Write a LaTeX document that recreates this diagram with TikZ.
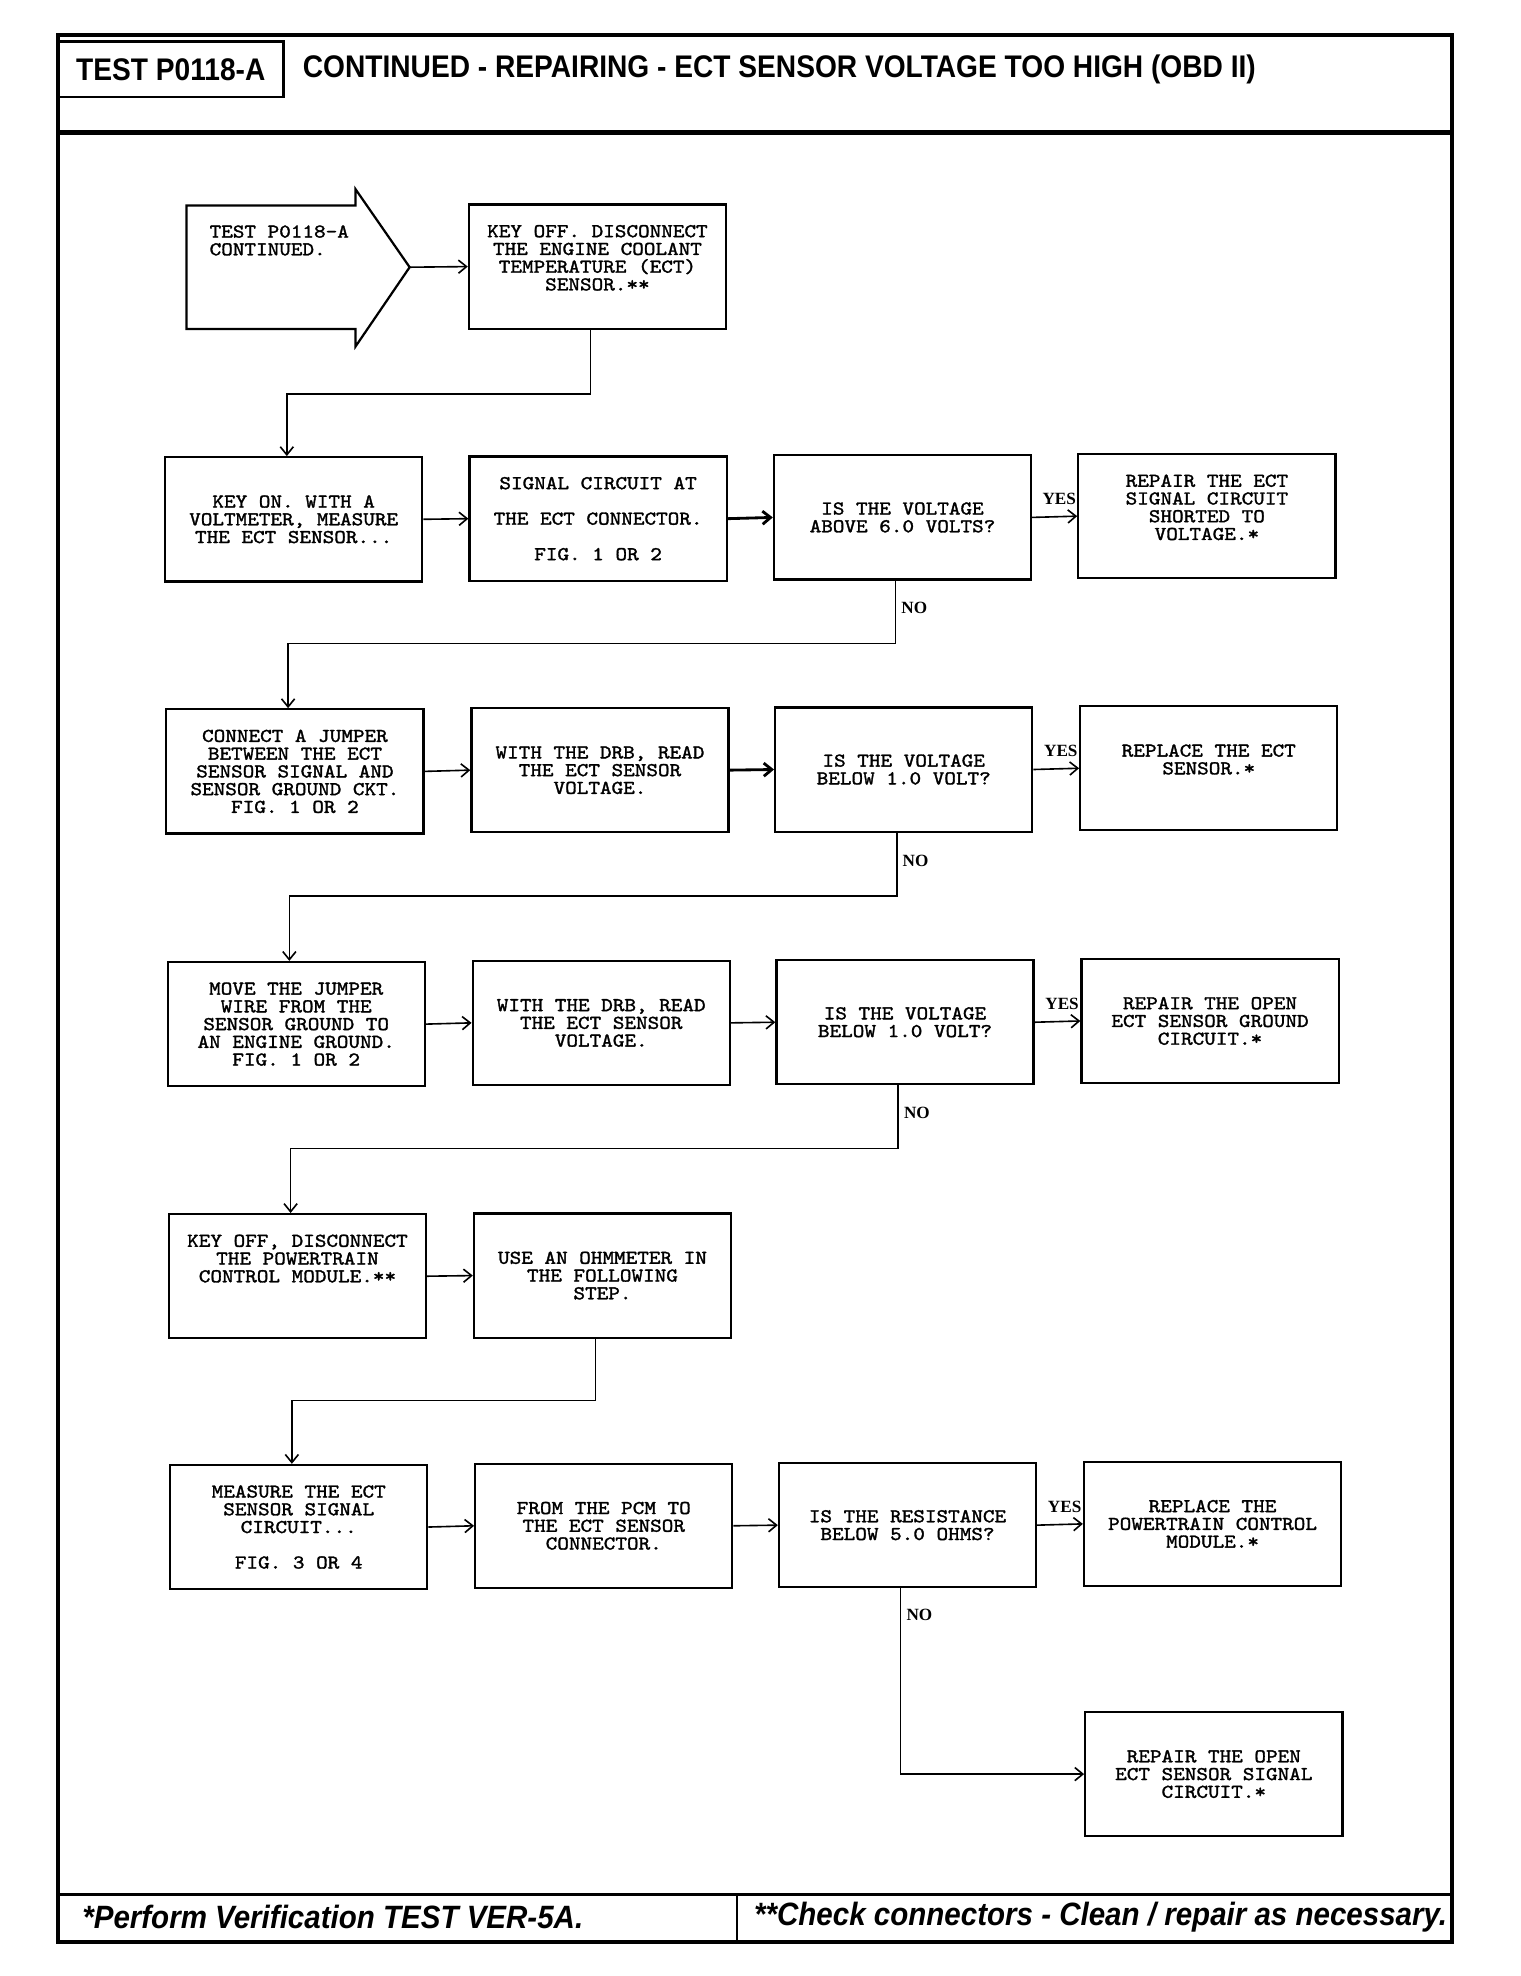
\documentclass[tikz,border=0pt]{standalone}
\usepackage{fontspec}
\setmainfont{Liberation Serif}
\newfontfamily\headfont[FakeStretch=0.9]{Liberation Sans}
\newfontfamily\footfont[FakeStretch=0.915]{Liberation Sans}
\newfontfamily\boxfont[Extension=.otf, FakeBold=1.6, FakeStretch=1.13]{lmmono10-regular}
\usetikzlibrary{arrows.meta}
\tikzset{>={Straight Barb[length=4pt,width=6.5pt]}}
\tikzset{ % chart styles
  stepbox/.style={draw, line width=1.1pt, minimum width=127.5pt,
    minimum height=61.6pt, align=center, inner sep=0pt,
    font=\boxfont\fontsize{9.7}{8.8}\selectfont},
  conn/.style={->, line width=0.8pt},
  answer/.style={font=\bfseries\fontsize{8.5}{9}\selectfont, inner sep=2.5pt},
  frame/.style={line width=1.9pt},
  headtext/.style={inner sep=0pt, font=\headfont\bfseries\fontsize{15.5}{16}\selectfont},
  foottext/.style={inner sep=0pt, anchor=west,
    font=\footfont\bfseries\itshape\fontsize{16}{17}\selectfont}
}

\begin{document}
\begin{tikzpicture}[x=0.625pt, y=-0.625pt]
\useasboundingbox (0,0) rectangle (1206,1567.7);

% page frame
\draw[frame] (46,28) rectangle (1152,1541);
\draw[line width=2.4pt] (46,105) -- (1152,105);
\draw[line width=1.1pt] (46,33) rectangle (225,77);
\draw[frame] (46,1503) -- (1152,1503);
\draw[line width=1.1pt] (585,1503) -- (585,1541);
\node[headtext] (testid) at (135.5,55) {TEST P0118-A};
\node[headtext, anchor=west] (title) at (240,55)
  {CONTINUED - REPAIRING - ECT SENSOR VOLTAGE TOO HIGH (OBD II)};
\node[foottext] (note1) at (65,1521) {*Perform Verification TEST VER-5A.};
\node[foottext] (note2) at (598,1521) {**Check connectors - Clean / repair as necessary.};

% entry arrow
\draw[line width=1.1pt] (148,163) -- (282,163) -- (282,150) -- (325,212)
  -- (282,275) -- (282,261) -- (148,261) -- cycle;
\coordinate (tip) at (325,212);
\node[anchor=north west, align=left, inner sep=0pt,
  font=\boxfont\fontsize{9.7}{8.8}\selectfont] (start) at (166,178.5)
  {TEST P0118-A\\CONTINUED.};

% steps
\node[stepbox] (a) at (474,211.5) {KEY OFF. DISCONNECT\\THE ENGINE COOLANT\\TEMPERATURE (ECT)\\SENSOR.**\\\mbox{}};

\node[stepbox] (b1) at (233,412) {KEY ON. WITH A\\VOLTMETER, MEASURE\\THE ECT SENSOR...};
\node[stepbox] (b2) at (474.5,411.5) {SIGNAL CIRCUIT AT\\[8.8pt]THE ECT CONNECTOR.\\[8.8pt]FIG. 1 OR 2};
\node[stepbox] (b3) at (716,410.5) {IS THE VOLTAGE\\ABOVE 6.0 VOLTS?};
\node[stepbox] (b4) at (957.5,409.5) {REPAIR THE ECT\\SIGNAL CIRCUIT\\SHORTED TO\\VOLTAGE.*\\\mbox{}};

\node[stepbox] (c1) at (234,612) {CONNECT A JUMPER\\BETWEEN THE ECT\\SENSOR SIGNAL AND\\SENSOR GROUND CKT.\\FIG. 1 OR 2};
\node[stepbox] (c2) at (476,611) {WITH THE DRB, READ\\THE ECT SENSOR\\VOLTAGE.};
\node[stepbox] (c3) at (717,610.5) {IS THE VOLTAGE\\BELOW 1.0 VOLT?};
\node[stepbox] (c4) at (959,609.5) {REPLACE THE ECT\\SENSOR.*\\\mbox{}};

\node[stepbox] (d1) at (235,812.5) {MOVE THE JUMPER\\WIRE FROM THE\\SENSOR GROUND TO\\AN ENGINE GROUND.\\FIG. 1 OR 2};
\node[stepbox] (d2) at (477,811.5) {WITH THE DRB, READ\\THE ECT SENSOR\\VOLTAGE.};
\node[stepbox] (d3) at (718,811) {IS THE VOLTAGE\\BELOW 1.0 VOLT?};
\node[stepbox] (d4) at (960,810) {REPAIR THE OPEN\\ECT SENSOR GROUND\\CIRCUIT.*};

\node[stepbox] (e1) at (236,1012.5) {KEY OFF, DISCONNECT\\THE POWERTRAIN\\CONTROL MODULE.**\\\mbox{}\\\mbox{}};
\node[stepbox] (e2) at (478,1012) {USE AN OHMMETER IN\\THE FOLLOWING\\STEP.};

\node[stepbox] (f1) at (237,1211.5) {MEASURE THE ECT\\SENSOR SIGNAL\\CIRCUIT...\\[8.8pt]FIG. 3 OR 4};
\node[stepbox] (f2) at (479,1210.5) {FROM THE PCM TO\\THE ECT SENSOR\\CONNECTOR.};
\node[stepbox] (f3) at (720,1210) {IS THE RESISTANCE\\BELOW 5.0 OHMS?};
\node[stepbox] (f4) at (962,1209) {REPLACE THE\\POWERTRAIN CONTROL\\MODULE.*};

\node[stepbox] (g) at (963,1407.5) {REPAIR THE OPEN\\ECT SENSOR SIGNAL\\CIRCUIT.*};

% connectors
\draw[conn] (tip) -- (a.west);
\draw[conn] ([xshift=-3.4pt]a.south) -- ++(0,51) -| ([xshift=-3.4pt]b1.north);

\draw[conn] (b1.east) -- (b2.west);
\draw[conn, line width=1.4pt] (b2.east) -- (b3.west);
\draw[conn] (b3.east) -- node[answer, above=3pt, pos=0.6] {YES} (b4.west);
\draw[conn] ([xshift=-3.4pt]b3.south) -- ++(0,22) node[answer, right] {NO}
  -- ++(0,28) -| ([xshift=-3.4pt]c1.north);

\draw[conn] (c1.east) -- (c2.west);
\draw[conn, line width=1.4pt] (c2.east) -- (c3.west);
\draw[conn] (c3.east) -- node[answer, above=3pt, pos=0.6] {YES} (c4.west);
\draw[conn] ([xshift=-3.4pt]c3.south) -- ++(0,22) node[answer, right] {NO}
  -- ++(0,28) -| ([xshift=-3.4pt]d1.north);

\draw[conn] (d1.east) -- (d2.west);
\draw[conn] (d2.east) -- (d3.west);
\draw[conn] (d3.east) -- node[answer, above=3pt, pos=0.6] {YES} (d4.west);
\draw[conn] ([xshift=-3.4pt]d3.south) -- ++(0,22) node[answer, right] {NO}
  -- ++(0,28) -| ([xshift=-3.4pt]e1.north);

\draw[conn] (e1.east) -- (e2.west);
\draw[conn] ([xshift=-3.4pt]e2.south) -- ++(0,49) -| ([xshift=-3.4pt]f1.north);

\draw[conn] (f1.east) -- (f2.west);
\draw[conn] (f2.east) -- (f3.west);
\draw[conn] (f3.east) -- node[answer, above=3pt, pos=0.6] {YES} (f4.west);
\draw[conn] ([xshift=-3.4pt]f3.south) -- ++(0,21) node[answer, right] {NO} |- (g.west);
\end{tikzpicture}
\end{document}
